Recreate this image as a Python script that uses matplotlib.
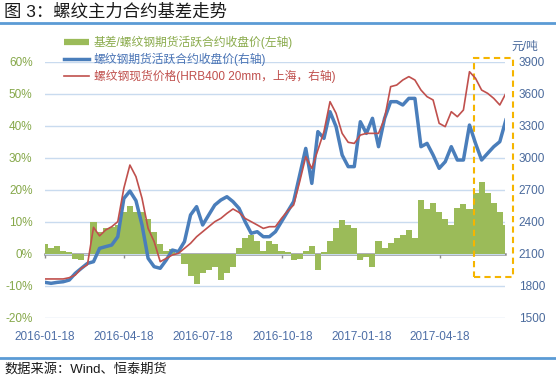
import matplotlib.pyplot as plt
import matplotlib.dates as mdates
import pandas as pd
from matplotlib.lines import Line2D
from matplotlib.patches import Rectangle
from matplotlib.ticker import FuncFormatter

plt.rcParams['font.family'] = ['Liberation Sans', 'Noto Sans CJK SC']
plt.rcParams['axes.unicode_minus'] = False

# weekly readings, 2016-01-18 .. 2017-06-26
dates = pd.date_range('2016-01-18', periods=77, freq='7D')

# basis / futures close (%), left axis
basis = [3, 2, 2.5, 1, 0.5, -1.5, -2, 0, 10, 7,
         8, 8.5, 9, 13, 15, 13, 13, 11, 7, 3,
         1, 1.5, 0, -3, -7, -9.5, -6, -5, -4, -8,
         -6, -4, 2, 5, 6, 4, 1, 4, 3, 1,
         0.5, -2, -1.5, 1, 2.5, -5, 0.5, 4, 8, 10.5,
         9, 8, -2, -1, -4, 4, 2, 3.5, 5, 6,
         7.5, 5, 17, 14, 16, 13, 11, 9, 14.5, 15.5,
         14, 19, 22.5, 19, 16, 13, 9]

# rebar futures active contract close (yuan/t), right axis
futures = [1834, 1825, 1834, 1840, 1856, 1919, 1966, 2012, 2028, 2153,
           2169, 2184, 2262, 2620, 2690, 2600, 2372, 2060, 1981, 1966,
           2044, 2137, 2122, 2216, 2466, 2544, 2372, 2466, 2559, 2606,
           2637, 2591, 2528, 2403, 2294, 2309, 2262, 2262, 2309, 2403,
           2497, 2591, 2840, 3090, 2762, 3247, 3184, 3434, 3294, 3028,
           2919, 2919, 3340, 3231, 3372, 3106, 3372, 3528, 3528, 3497,
           3559, 3559, 3106, 3137, 3028, 2903, 2965, 3106, 2981, 2981,
           3309, 3137, 2981, 3044, 3106, 3153, 3356]

# rebar spot price HRB400 20mm Shanghai (yuan/t), right axis
spot = [1866, 1866, 1866, 1866, 1878, 1903, 1966, 2000, 2350, 2270,
        2325, 2356, 2403, 2716, 2934, 2825, 2622, 2340, 2216, 2028,
        2059, 2091, 2106, 2153, 2200, 2262, 2309, 2356, 2403, 2434,
        2481, 2522, 2490, 2434, 2403, 2372, 2340, 2356, 2356, 2434,
        2503, 2559, 2778, 3012, 2903, 3075, 3247, 3528, 3419, 3231,
        3147, 3137, 3215, 3231, 3231, 3231, 3372, 3669, 3684, 3731,
        3763, 3731, 3637, 3575, 3544, 3325, 3294, 3434, 3387, 3450,
        3809, 3747, 3637, 3606, 3559, 3497, 3606]

xtick_dates = ['2016-01-18', '2016-04-18', '2016-07-18',
               '2016-10-18', '2017-01-18', '2017-04-18']
left_ticks = [-20, -10, 0, 10, 20, 30, 40, 50, 60]
right_ticks = [1500, 1800, 2100, 2400, 2700, 3000, 3300, 3600, 3900]

labels = ['基差/螺纹钢期货活跃合约收盘价(左轴)',
          '螺纹钢期货活跃合约收盘价(右轴)',
          '螺纹钢现货价格(HRB400 20mm，上海，右轴)']

green = '#9bbb59'
blue = '#4a7ebb'
red = '#c0504d'

fig = plt.figure(figsize=(5.56, 3.78), dpi=100)
ax = fig.add_axes([45/556, 1-318/378, 460/556, 256/378])

ax.bar(dates, basis, width=7, color=green, linewidth=0, zorder=2)
ax.set_ylim(-20, 60)
ax.set_yticks(left_ticks)
ax.yaxis.set_major_formatter(FuncFormatter(lambda v, p: f'{v:.0f}%'))
ax.yaxis.grid(True, color='#c9dbef', lw=1)
ax.set_axisbelow(True)
ax.set_xlim(pd.Timestamp('2016-01-18'), pd.Timestamp('2017-07-02'))
xt = pd.to_datetime(xtick_dates)
ax.set_xticks(xt)
ax.xaxis.set_major_formatter(mdates.DateFormatter('%Y-%m-%d'))
ax.tick_params(axis='x', length=0, pad=9, labelsize=8.5, labelcolor='#4d6ea6')
ax.tick_params(axis='y', length=0, pad=9, labelsize=8.5, labelcolor='#86a84a')
for s in ax.spines.values():
    s.set_visible(False)

# zero line with small ticks
sec = ax.secondary_xaxis(0.25)
sec.set_xticks(mdates.date2num(xt))
sec.tick_params(length=3, width=1, color='#8c8c8c', labelbottom=False)
sec.spines['bottom'].set_color('#8c8c8c')
sec.spines['bottom'].set_linewidth(1.8)

ax2 = ax.twinx()
ax2.plot(dates, futures, color=blue, lw=2.5, zorder=3)
ax2.plot(dates, spot, color=red, lw=1.2, zorder=4)
ax2.set_ylim(1500, 3900)
ax2.set_yticks(right_ticks)
ax2.tick_params(axis='y', length=0, pad=10, labelsize=8.5, labelcolor='#4a6a9c')
for s in ax2.spines.values():
    s.set_visible(False)

box = Rectangle((0.933, 0.160), 0.084, 0.856, transform=ax.transAxes,
                fill=False, edgecolor='#f5b500', lw=1.5, ls=(0, (3, 2)),
                clip_on=False, zorder=5)
ax.add_patch(box)

handles = [Line2D([], [], color=green, lw=4.5, solid_capstyle='butt'),
           Line2D([], [], color=blue, lw=2.5),
           Line2D([], [], color=red, lw=1.2)]
fig.legend(handles, labels, loc='upper left', bbox_to_anchor=(64/556, 1-36/378),
           frameon=False, fontsize=8.5, handlelength=2.1, handletextpad=0.4,
           labelspacing=0.3, borderpad=0, borderaxespad=0,
           labelcolor=['#8aab4c', '#4a74b5', '#c0504d'])

fig.text(511/556, 1-47/378, '元/吨', fontsize=8.5, color='#4a6a9c', va='center')

fig.text(4/556, 1-12/378, '图 3：螺纹主力合约基差走势', fontsize=12.5,
         va='center', ha='left', color='#1a1a1a')
fig.add_artist(Line2D([0, 1], [1-23/378]*2, color='#5b9bd5', lw=2))
fig.add_artist(Line2D([0, 1], [1-358/378]*2, color='#5b9bd5', lw=2))
fig.text(4/556, 1-369/378, '数据来源：Wind、恒泰期货', fontsize=9.5,
         va='center', ha='left', color='#1a1a1a')

fig.savefig('out.png', dpi=100)
